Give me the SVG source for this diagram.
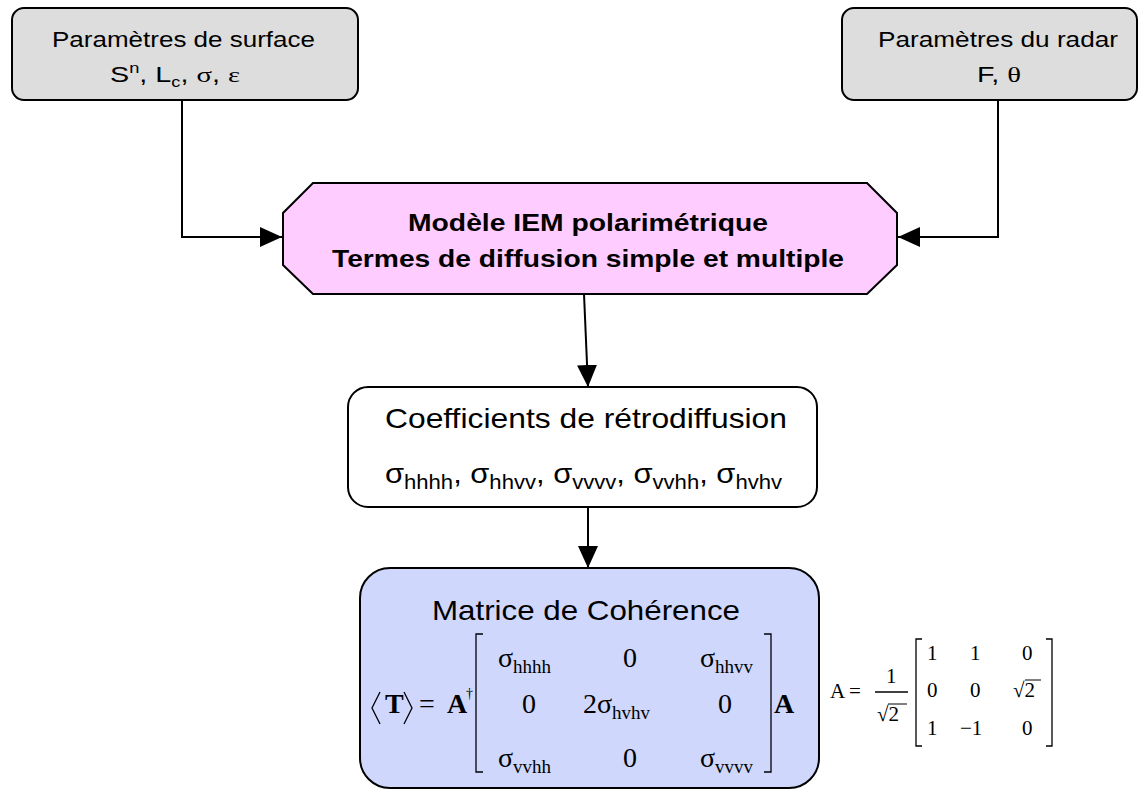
<svg xmlns="http://www.w3.org/2000/svg" width="1145" height="789" viewBox="0 0 1145 789">
<defs>
<style>
.box{stroke:#000;stroke-width:2}
.sans{font-family:"Liberation Sans",Arial,sans-serif;fill:#000}
.serif{font-family:"Liberation Serif","Times New Roman",serif;fill:#000}
.conn{fill:none;stroke:#000;stroke-width:2}
.br{fill:none;stroke:#000;stroke-width:1.3}
</style>
<marker id="ah" markerUnits="userSpaceOnUse" markerWidth="22" markerHeight="20" refX="22" refY="10" orient="auto">
<path d="M0,0 L22,10 L0,20 Z" fill="#000"/>
</marker>
</defs>
<rect width="1145" height="789" fill="#fff"/>

<g id="connectors">
<polyline class="conn" points="182,100 182,237 282,237" marker-end="url(#ah)"/>
<polyline class="conn" points="998,100 998,237 898,237" marker-end="url(#ah)"/>
<line class="conn" x1="584" y1="294" x2="588" y2="387" marker-end="url(#ah)"/>
<line class="conn" x1="588" y1="507" x2="588" y2="568" marker-end="url(#ah)"/>
</g>

<g id="surface">
<rect class="box" x="12" y="8" width="346" height="92" rx="12" fill="#DDDDDD"/>
<text class="sans" x="52" y="47" font-size="22" textLength="263" lengthAdjust="spacingAndGlyphs">Paramètres de surface</text>
<text class="sans" x="110" y="82" font-size="22" textLength="130" lengthAdjust="spacingAndGlyphs">S<tspan font-size="14" dy="-9">n</tspan><tspan dy="9">, L</tspan><tspan font-size="14" dy="5">c</tspan><tspan dy="-5">, </tspan><tspan class="serif">σ</tspan>, <tspan class="serif">ε</tspan></text>
</g>

<g id="radar">
<rect class="box" x="842" y="8" width="295" height="92" rx="12" fill="#DDDDDD"/>
<text class="sans" x="878" y="47" font-size="22" textLength="240" lengthAdjust="spacingAndGlyphs">Paramètres du radar</text>
<text class="sans" x="977" y="82" font-size="22" textLength="44" lengthAdjust="spacingAndGlyphs">F, <tspan class="serif">θ</tspan></text>
</g>

<g id="iem">
<polygon class="box" points="313,183 867,183 897,213 897,265 867,294 313,294 283,265 283,213" fill="#FFCCFF"/>
<text class="sans" x="588" y="231" font-size="23" font-weight="bold" text-anchor="middle" textLength="360" lengthAdjust="spacingAndGlyphs">Modèle IEM polarimétrique</text>
<text class="sans" x="588" y="267" font-size="23" font-weight="bold" text-anchor="middle" textLength="512" lengthAdjust="spacingAndGlyphs">Termes de diffusion simple et multiple</text>
</g>

<g id="coefficients">
<rect class="box" x="348" y="387" width="469" height="120" rx="20" fill="#FFFFFF"/>
<text class="sans" x="385" y="428" font-size="28" textLength="402" lengthAdjust="spacingAndGlyphs">Coefficients de rétrodiffusion</text>
<text class="sans" x="385" y="483" font-size="28" textLength="397" lengthAdjust="spacingAndGlyphs">σ<tspan font-size="20" dy="6">hhhh</tspan><tspan dy="-6">, σ</tspan><tspan font-size="20" dy="6">hhvv</tspan><tspan dy="-6">, σ</tspan><tspan font-size="20" dy="6">vvvv</tspan><tspan dy="-6">, σ</tspan><tspan font-size="20" dy="6">vvhh</tspan><tspan dy="-6">, σ</tspan><tspan font-size="20" dy="6">hvhv</tspan></text>
</g>

<g id="coherence">
<rect class="box" x="360" y="568" width="459" height="220" rx="30" fill="#CFD7FC"/>
<text class="sans" x="432" y="620" font-size="28" textLength="308" lengthAdjust="spacingAndGlyphs">Matrice de Cohérence</text>
<polyline class="br" points="380,692 372,708 380,724"/>
<polyline class="br" points="404,692 412,708 404,724"/>
<text class="serif" x="385" y="713" font-size="28" font-weight="bold">T</text>
<text class="serif" x="419" y="713" font-size="28">=</text>
<text class="serif" x="447" y="713" font-size="28" font-weight="bold">A</text>
<text class="serif" x="466" y="698" font-size="14">†</text>
<polyline class="br" points="483,634 476,634 476,772 483,772"/>
<polyline class="br" points="764,634 771,634 771,772 764,772"/>
<text class="serif" x="774" y="713" font-size="28" font-weight="bold">A</text>
<text class="serif" font-size="28">
<tspan x="498" y="667">σ</tspan><tspan font-size="19" dy="6">hhhh</tspan>
<tspan x="623" y="667">0</tspan>
<tspan x="700" y="667">σ</tspan><tspan font-size="19" dy="6">hhvv</tspan>
<tspan x="522" y="713">0</tspan>
<tspan x="583" y="713">2σ</tspan><tspan font-size="19" dy="6">hvhv</tspan>
<tspan x="718" y="713">0</tspan>
<tspan x="498" y="767">σ</tspan><tspan font-size="19" dy="6">vvhh</tspan>
<tspan x="623" y="767">0</tspan>
<tspan x="700" y="767">σ</tspan><tspan font-size="19" dy="6">vvvv</tspan>
</text>
</g>

<g id="matrixA">
<text class="serif" x="830" y="698" font-size="21">A</text>
<text class="serif" x="849" y="698" font-size="21">=</text>
<text class="serif" x="886" y="683" font-size="21">1</text>
<line x1="875" y1="692" x2="908" y2="692" stroke="#000" stroke-width="1.3"/>
<text class="serif" x="877" y="721" font-size="21">√2</text>
<line x1="888" y1="704" x2="907" y2="704" stroke="#000" stroke-width="1"/>
<polyline class="br" points="922,639 916,639 916,746 922,746"/>
<polyline class="br" points="1046,639 1052,639 1052,746 1046,746"/>
<text class="serif" font-size="21">
<tspan x="927" y="660">1</tspan><tspan x="970" y="660">1</tspan><tspan x="1022" y="660">0</tspan>
<tspan x="927" y="697">0</tspan><tspan x="970" y="697">0</tspan><tspan x="1013" y="697">√2</tspan>
<tspan x="927" y="735">1</tspan><tspan x="960" y="735">−1</tspan><tspan x="1022" y="735">0</tspan>
</text>
<line x1="1025" y1="680" x2="1041" y2="680" stroke="#000" stroke-width="1"/>
</g>
</svg>
